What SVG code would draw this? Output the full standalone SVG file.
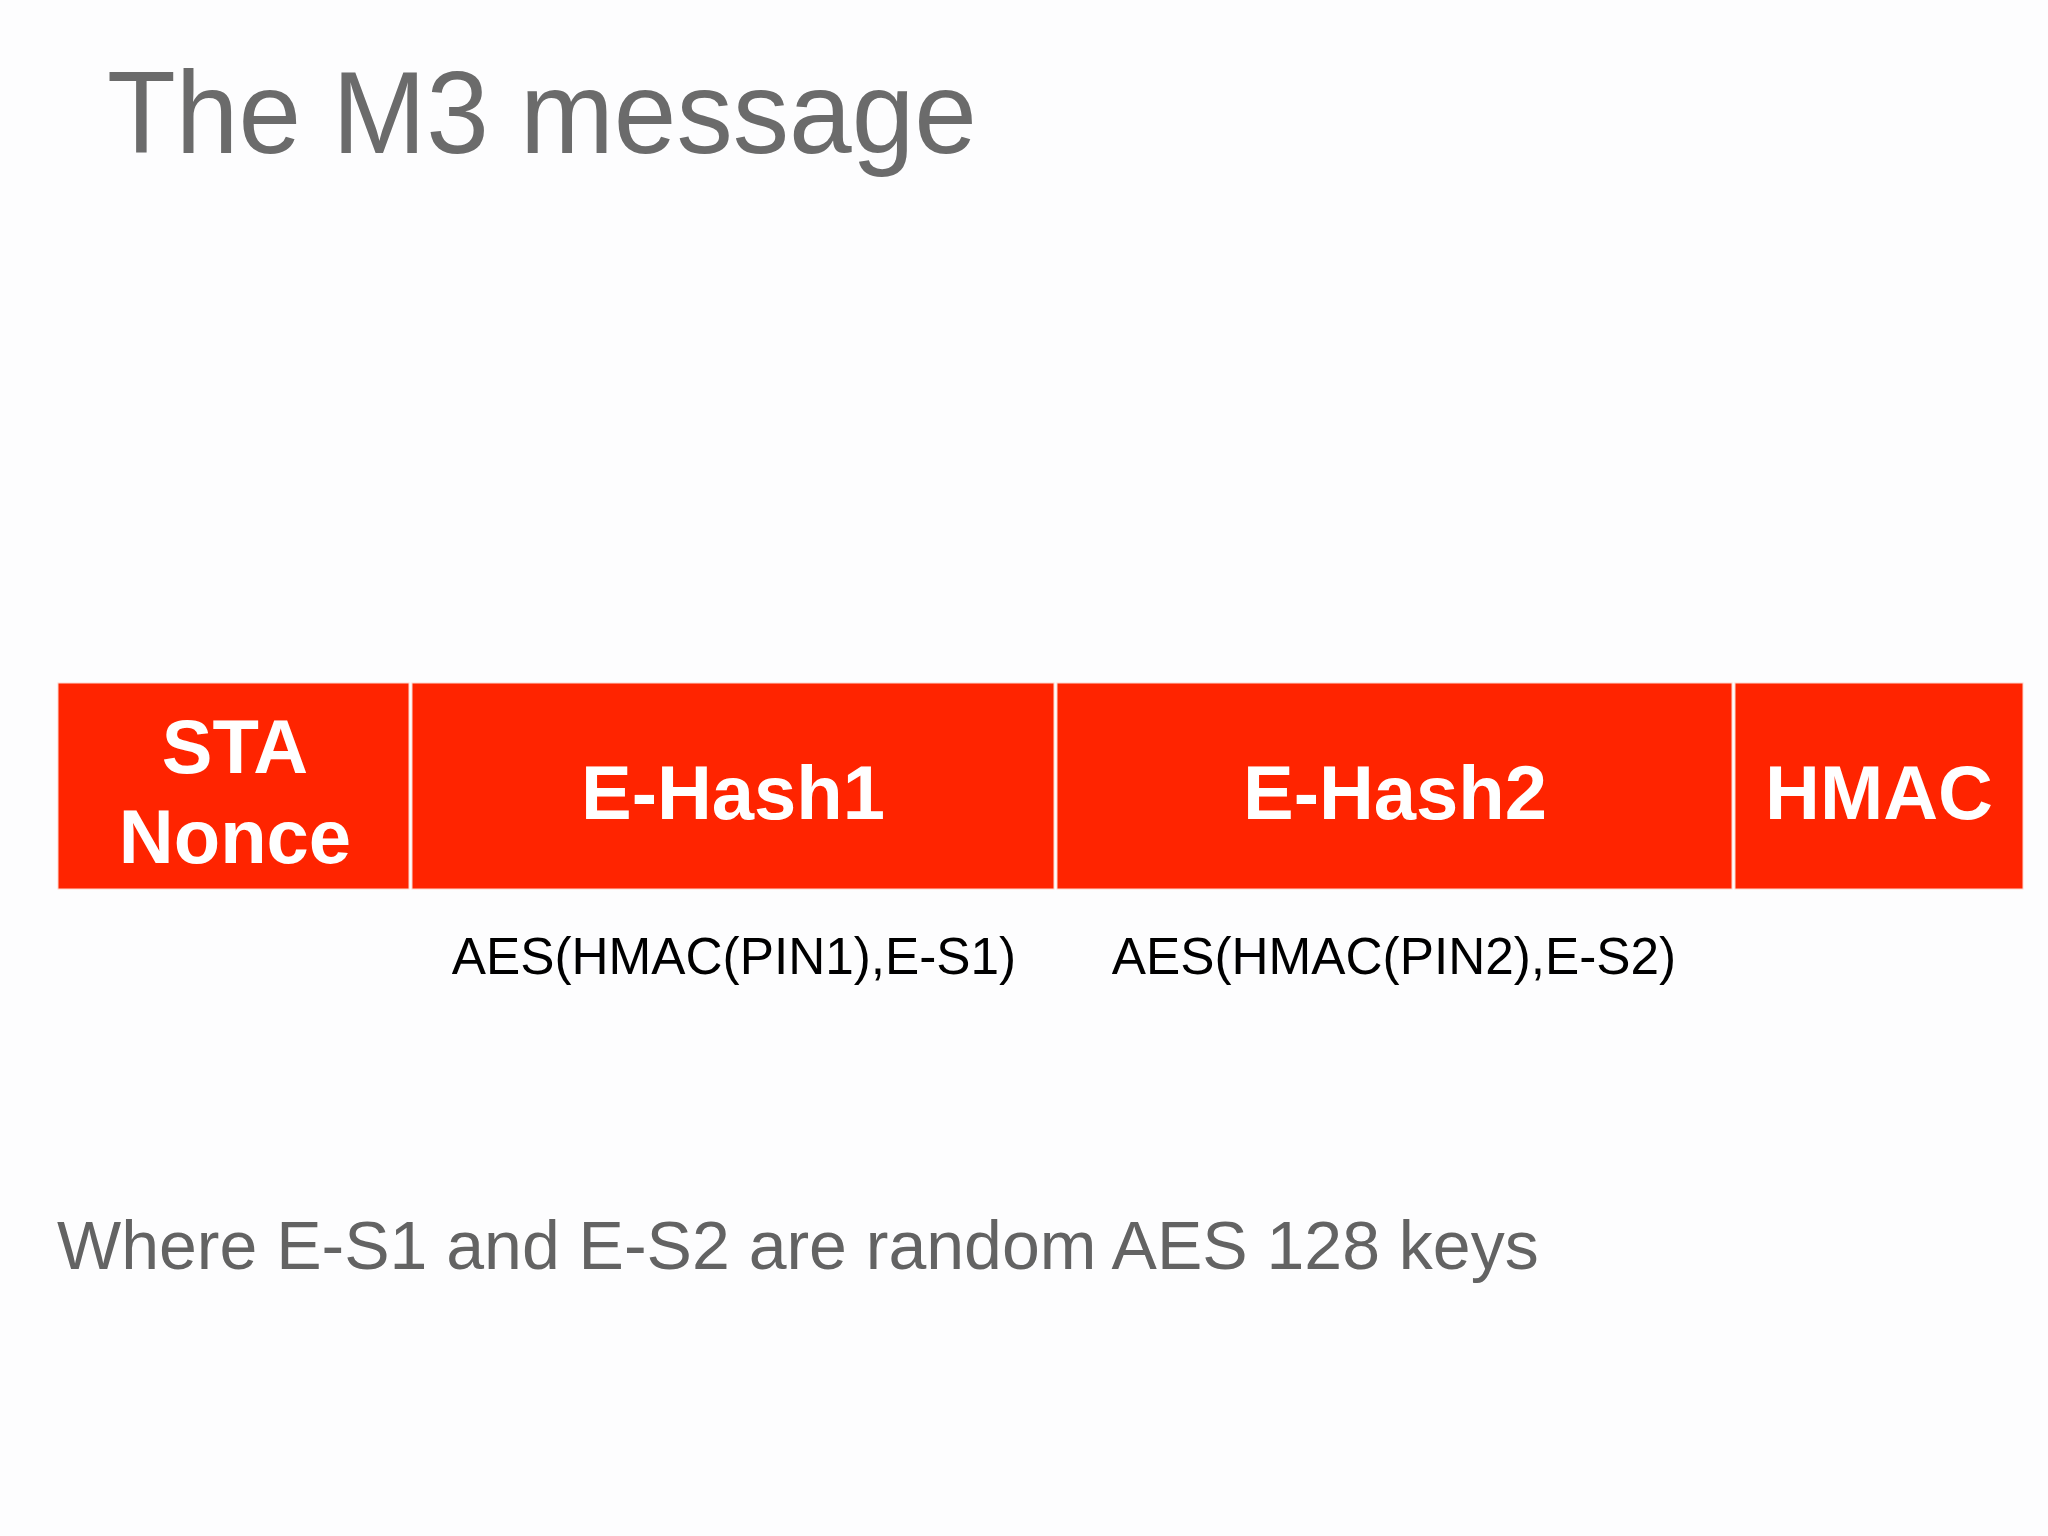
<svg xmlns="http://www.w3.org/2000/svg" width="2048" height="1536" viewBox="0 0 2048 1536">
<style>
.box{fill:#ff2400;stroke:#ffd6cc;stroke-width:1}
.bt{font-family:"Liberation Sans",Arial,sans-serif;font-weight:bold;font-size:76px;fill:#ffffff;text-anchor:middle}
.sub{font-family:"Liberation Sans",Arial,sans-serif;font-size:51.3px;fill:#000000;text-anchor:middle}
.gray{font-family:"Liberation Sans",Arial,sans-serif;fill:#6b6b6b}
</style>
<rect width="2048" height="1536" fill="#fdfdfe"/>
<text class="gray" x="107" y="153" font-size="116" textLength="870" lengthAdjust="spacingAndGlyphs">The M3 message</text>
<g id="sta-nonce">
<rect class="box" x="58" y="683" width="351" height="206"/>
<text class="bt" x="235" y="773">STA</text>
<text class="bt" x="235" y="863">Nonce</text>
</g>
<g id="e-hash1">
<rect class="box" x="412" y="683" width="642" height="206"/>
<text class="bt" x="733" y="819">E-Hash1</text>
</g>
<g id="e-hash2">
<rect class="box" x="1057" y="683" width="675" height="206"/>
<text class="bt" x="1395" y="819">E-Hash2</text>
</g>
<g id="hmac">
<rect class="box" x="1735" y="683" width="288" height="206"/>
<text class="bt" x="1879" y="819">HMAC</text>
</g>
<g id="connectors"></g>
<text class="sub" x="734" y="974">AES(HMAC(PIN1),E-S1)</text>
<text class="sub" x="1394" y="974">AES(HMAC(PIN2),E-S2)</text>
<text class="gray" x="57" y="1269" font-size="68" style="fill:#636363">Where E-S1 and E-S2 are random AES 128 keys</text>
</svg>
